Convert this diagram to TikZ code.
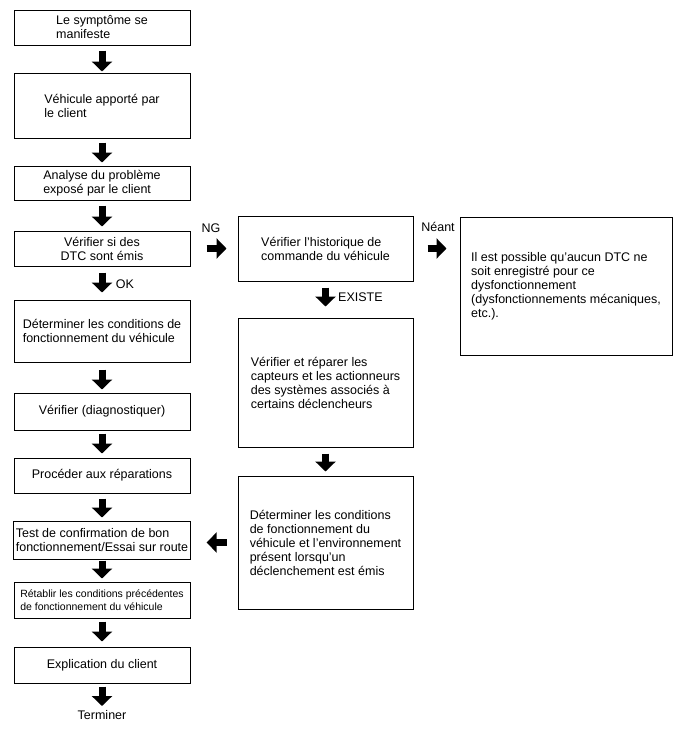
\documentclass[tikz,border=0pt]{standalone}
\usepackage{fontspec}
\setmainfont{Liberation Sans}
\usetikzlibrary{arrows.meta}
\tikzset{
  box/.style={draw, line width=1pt, fill=white, inner sep=2pt, font=\fontsize{12.5}{14}\selectfont},
  lbl/.style={inner sep=0pt, font=\fontsize{12.5}{14}\selectfont},
  blk/.style={line width=7pt, -{Triangle[width=20pt,length=10pt]}},
}
\begin{document}
\begin{tikzpicture}[x=1pt,y=-1pt]
\useasboundingbox (0,0) rectangle (688,755);
% left column
\node[box, minimum width=176, minimum height=35, align=left] (b1) at (102,27.5) {Le symptôme se\\manifeste};
\node[box, minimum width=176, minimum height=65, align=left] (b2) at (102,105.5) {Véhicule apporté par\\le client};
\node[box, minimum width=176, minimum height=34, align=left] (b3) at (102,183) {Analyse du problème\\exposé par le client};
\node[box, minimum width=176, minimum height=35, align=center] (b4) at (102,248.5) {Vérifier si des\\DTC sont émis};
\node[box, minimum width=176, minimum height=62, align=left] (b5) at (102,331) {Déterminer les conditions de\\fonctionnement du véhicule};
\node[box, minimum width=176, minimum height=37] (b6) at (102,411.5) {Vérifier (diagnostiquer)};
\node[box, minimum width=176, minimum height=35] (b7) at (102,475.5) {Procéder aux réparations};
\node[box, minimum width=176, minimum height=38, align=left] (b8) at (102,540) {Test de confirmation de bon\\fonctionnement/Essai sur route};
\node[box, minimum width=176, minimum height=36, align=left, font=\fontsize{10.5}{13}\selectfont] (b9) at (102,600) {Rétablir les conditions précédentes\\de fonctionnement du véhicule};
\node[box, minimum width=176, minimum height=36] (b10) at (102,665) {Explication du client};
\node[lbl, anchor=north] (term) at (102,710) {Terminer};
% right column
\node[box, minimum width=175, minimum height=65, align=left] (r1) at (325.5,248.5) {Vérifier l'historique de\\commande du véhicule};
\node[box, minimum width=175, minimum height=129, align=left] (r2) at (325.5,382.5) {Vérifier et réparer les\\capteurs et les actionneurs\\des systèmes associés à\\certains déclencheurs};
\node[box, minimum width=175, minimum height=133, align=left] (r3) at (325.5,542.5) {Déterminer les conditions\\de fonctionnement du\\véhicule et l'environnement\\présent lorsqu'un\\déclenchement est émis};
\node[box, minimum width=212, minimum height=138, align=left] (n1) at (566,286) {Il est possible qu'aucun DTC ne\\soit enregistré pour ce\\dysfonctionnement\\(dysfonctionnements mécaniques,\\etc.).};
% labels
\node[lbl] (ok) at (125,284) {OK};
\node[lbl] (ng) at (211,228) {NG};
\node[lbl] (neant) at (438,227) {Néant};
\node[lbl, anchor=west] (ex) at (338,297) {EXISTE};
% arrows
\draw[blk, shorten <=5pt, shorten >=1pt] (b1.south) -- (b2.north);
\draw[blk, shorten <=4pt, shorten >=3pt] (b2.south) -- (b3.north);
\draw[blk, shorten <=5pt, shorten >=4pt] (b3.south) -- (b4.north);
\draw[blk, shorten <=6pt, shorten >=7pt] (b4.south) -- (b5.north);
\draw[blk, shorten <=7pt, shorten >=3pt] (b5.south) -- (b6.north);
\draw[blk, shorten <=3pt, shorten >=4pt] (b6.south) -- (b7.north);
\draw[blk, shorten <=5pt, shorten >=3pt] (b7.south) -- (b8.north);
\draw[blk, shorten <=1pt, shorten >=3pt] (b8.south) -- (b9.north);
\draw[blk, shorten <=3pt, shorten >=5pt] (b9.south) -- (b10.north);
\draw[blk, shorten <=3pt, shorten >=4pt] (b10.south) -- (term.north);
\draw[blk, shorten <=16pt, shorten >=11pt] (b4.east) -- (r1.west);
\draw[blk, shorten <=14pt, shorten >=13pt] (r1.east) -- (r1.east -| n1.west);
\draw[blk, shorten <=6pt, shorten >=11pt] (r1.south) -- (r2.north);
\draw[blk, shorten <=6pt, shorten >=4pt] (r2.south) -- (r3.north);
\draw[blk, shorten <=11pt, shorten >=16pt] (r3.west) -- (r3.west -| b8.east);
\end{tikzpicture}
\end{document}
